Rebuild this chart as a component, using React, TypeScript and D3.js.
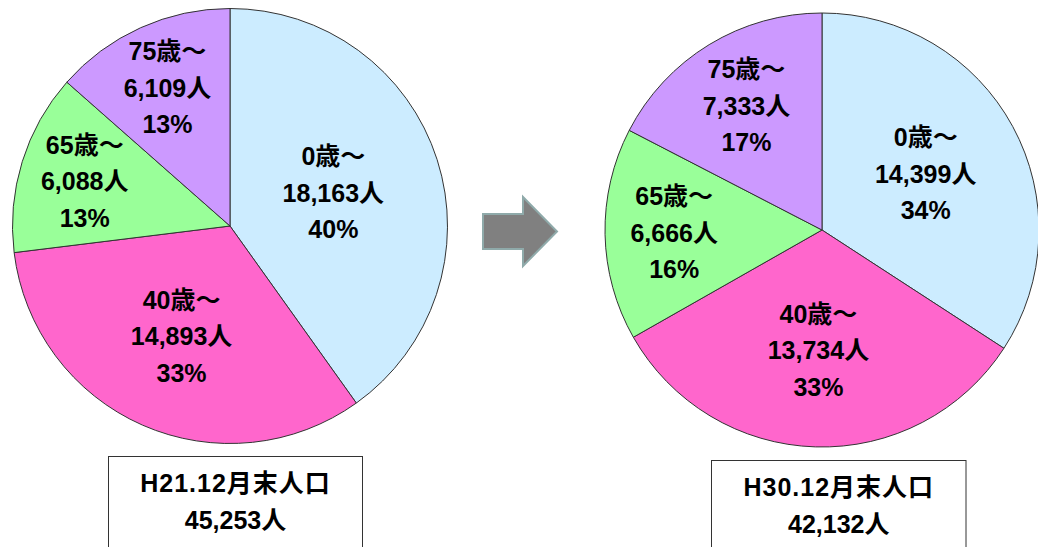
import * as d3 from 'd3';
import { useEffect, useRef } from 'react';

const ageGroups = ['0歳～', '40歳～', '65歳～', '75歳～'];
const h21Values = [18163, 14893, 6088, 6109];
const h30Values = [14399, 13734, 6666, 7333];
const periodLabels = ['H21.12月末人口', 'H30.12月末人口'];

const sliceColors = ['#CCECFF', '#FF66CC', '#99FF99', '#CC99FF'];

const width = 1038;
const height = 547;
const fontFamily = '"Liberation Sans", Arial, "Noto Sans CJK JP", sans-serif';

interface PieSpec {
  values: number[];
  label: string;
  cx: number;
  cy: number;
  r: number;
  box: { x: number; y: number; w: number };
}

const pies: PieSpec[] = [
  { values: h21Values, label: periodLabels[0], cx: 230, cy: 226, r: 217.5, box: { x: 108.5, y: 456.5, w: 254 } },
  { values: h30Values, label: periodLabels[1], cx: 822, cy: 230, r: 217, box: { x: 711.5, y: 460.5, w: 254.5 } },
];

const App: React.FC = () => {
  const ref = useRef<SVGSVGElement | null>(null);

  useEffect(() => {
    if (!ref.current) return;
    const svg = d3.select(ref.current);
    svg.selectAll('*').remove();

    const pie = d3.pie<number>().sort(null).value((d) => d);
    const fmt = d3.format(',');

    pies.forEach((p) => {
      const total = d3.sum(p.values);
      const arcs = pie(p.values);
      const arc = d3.arc<d3.PieArcDatum<number>>().innerRadius(0).outerRadius(p.r);

      const g = svg.append('g').attr('transform', `translate(${p.cx},${p.cy})`);

      g.selectAll('path')
        .data(arcs)
        .join('path')
        .attr('d', arc)
        .attr('fill', (_, i) => sliceColors[i])
        .attr('stroke', '#333')
        .attr('stroke-width', 1);

      // labels: smaller slices sit further out, like Excel's best fit
      arcs.forEach((a, i) => {
        const frac = a.value / total;
        const lr = p.r * (0.8 - 0.75 * frac);
        const mid = (a.startAngle + a.endAngle) / 2;
        const x = lr * Math.sin(mid);
        const y = -lr * Math.cos(mid);
        const lines = [
          ageGroups[i],
          `${fmt(a.value)}人`,
          `${Math.round(frac * 100)}%`,
        ];
        g.append('text')
          .attr('x', x)
          .attr('y', y)
          .attr('text-anchor', 'middle')
          .attr('font-family', fontFamily)
          .attr('font-weight', 'bold')
          .attr('font-size', 25)
          .attr('fill', '#000')
          .selectAll('tspan')
          .data(lines)
          .join('tspan')
          .attr('x', x)
          .attr('y', (_, j) => y + (j - 1) * 36.5)
          .attr('dominant-baseline', 'central')
          .text((d) => d);
      });

      // total box
      const b = svg.append('g');
      b.append('rect')
        .attr('x', p.box.x)
        .attr('y', p.box.y)
        .attr('width', p.box.w)
        .attr('height', 120)
        .attr('fill', 'white')
        .attr('stroke', '#333')
        .attr('stroke-width', 1);
      const bx = p.box.x + p.box.w / 2;
      [p.label, `${fmt(total)}人`].forEach((t, j) => {
        b.append('text')
          .attr('x', bx)
          .attr('y', p.box.y + 26 + j * 37)
          .attr('text-anchor', 'middle')
          .attr('dominant-baseline', 'central')
          .attr('font-family', fontFamily)
          .attr('font-weight', 'bold')
          .attr('font-size', 25)
          .attr('letter-spacing', j === 0 ? 1 : 0)
          .text(t);
      });
    });

    // arrow between the two pies
    svg
      .append('path')
      .attr('d', 'M483,214 L523,214 L523,197 L557,231.5 L523,266 L523,249 L483,249 Z')
      .attr('fill', '#808080')
      .attr('stroke', '#8FAAAA')
      .attr('stroke-width', 2);
  }, []);

  return (
    <svg
      ref={ref}
      width={width}
      height={height}
      style={{ position: 'absolute', left: 0, top: 0, background: 'white' }}
    />
  );
};

export default App;
